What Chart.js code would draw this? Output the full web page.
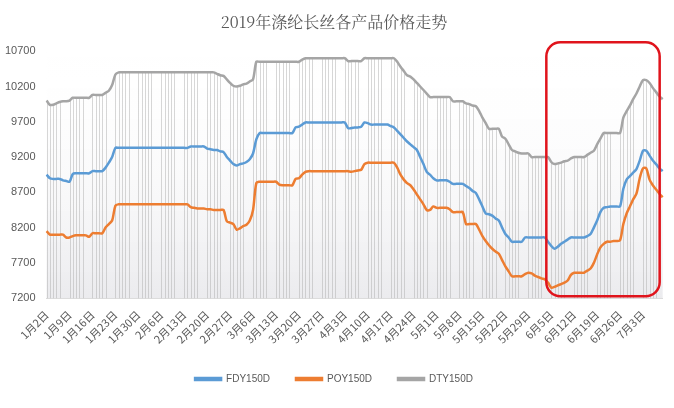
<!DOCTYPE html>
<html><head><meta charset="utf-8">
<script src="https://cdn.jsdelivr.net/npm/chart.js@4.4.1/dist/chart.umd.min.js"></script>
<style>html,body{margin:0;padding:0;background:#fff}#wrap{width:674px;height:408px}</style>
</head><body><div id="wrap"><canvas id="c" width="674" height="408"></canvas></div>
<script>
const title = '2019年涤纶长丝各产品价格走势';
const tickLabels = ['1月2日','1月9日','1月16日','1月23日','1月30日','2月6日','2月13日','2月20日','2月27日','3月6日','3月13日','3月20日','3月27日','4月3日','4月10日','4月17日','4月24日','5月1日','5月8日','5月15日','5月22日','5月29日','6月5日','6月12日','6月19日','6月26日','7月3日'];
const seriesNames = ['FDY150D','POY150D','DTY150D'];
const dty = [10000,9940,9940,9960,9980,9990,9990,10000,10040,10040,
10040,10040,10040,10040,10080,10080,10080,10080,10110,10140,
10220,10370,10400,10400,10400,10400,10400,10400,10400,10400,
10400,10400,10400,10400,10400,10400,10400,10400,10400,10400,
10400,10400,10400,10400,10400,10400,10400,10400,10400,10400,
10400,10400,10380,10360,10350,10300,10250,10210,10200,10210,
10230,10240,10270,10300,10550,10550,10550,10550,10550,10550,
10550,10550,10550,10550,10550,10550,10550,10550,10580,10600,
10600,10600,10600,10600,10600,10600,10600,10600,10600,10600,
10600,10600,10560,10560,10560,10560,10560,10600,10600,10600,
10600,10600,10600,10600,10600,10600,10600,10550,10480,10420,
10360,10340,10300,10250,10200,10150,10100,10050,10050,10050,
10050,10050,10050,10050,9990,9990,9990,9990,9960,9950,
9930,9920,9850,9760,9680,9600,9600,9600,9600,9490,
9460,9380,9300,9280,9260,9250,9250,9250,9200,9200,
9200,9200,9200,9200,9130,9100,9110,9120,9140,9150,
9180,9200,9200,9200,9200,9230,9260,9290,9380,9460,
9540,9540,9540,9540,9540,9540,9760,9850,9930,10020,
10100,10200,10290,10290,10250,10180,10120,10060,10020];
const fdy = [8950,8900,8890,8890,8890,8870,8860,8850,8960,8970,
8970,8970,8970,8970,9000,9000,9000,9000,9050,9120,
9200,9330,9330,9330,9330,9330,9330,9330,9330,9330,
9330,9330,9330,9330,9330,9330,9330,9330,9330,9330,
9330,9330,9330,9330,9350,9350,9350,9350,9350,9320,
9310,9300,9300,9280,9270,9200,9150,9100,9080,9100,
9110,9130,9170,9250,9450,9540,9540,9540,9540,9540,
9540,9540,9540,9540,9540,9540,9620,9630,9660,9690,
9690,9690,9690,9690,9690,9690,9690,9690,9690,9690,
9690,9690,9610,9610,9620,9620,9630,9690,9680,9660,
9660,9660,9660,9660,9660,9640,9620,9570,9520,9470,
9420,9380,9340,9300,9200,9100,8990,8950,8900,8870,
8870,8870,8870,8850,8820,8820,8820,8820,8790,8760,
8720,8690,8600,8500,8400,8390,8370,8330,8300,8200,
8110,8060,8000,8000,8000,8000,8060,8060,8060,8060,
8060,8060,8060,8000,7940,7900,7930,7970,8000,8030,
8060,8060,8060,8060,8060,8080,8110,8200,8300,8420,
8480,8490,8500,8500,8500,8500,8750,8880,8930,8980,
9030,9150,9290,9290,9220,9150,9100,9040,9000];
const poy = [8150,8100,8100,8100,8100,8100,8060,8060,8080,8090,
8090,8090,8090,8070,8120,8120,8120,8120,8200,8250,
8300,8510,8530,8530,8530,8530,8530,8530,8530,8530,
8530,8530,8530,8530,8530,8530,8530,8530,8530,8530,
8530,8530,8530,8530,8490,8480,8470,8470,8470,8460,
8460,8450,8450,8450,8450,8290,8270,8250,8170,8190,
8220,8240,8300,8450,8830,8850,8850,8850,8850,8850,
8850,8810,8800,8800,8800,8800,8890,8900,8950,8990,
9000,9000,9000,9000,9000,9000,9000,9000,9000,9000,
9000,9000,9000,8990,9000,9010,9020,9100,9120,9120,
9120,9120,9120,9120,9120,9120,9120,9050,8950,8880,
8830,8800,8740,8670,8600,8530,8450,8450,8500,8480,
8480,8480,8480,8460,8420,8420,8420,8420,8250,8250,
8250,8250,8170,8080,8010,7950,7900,7860,7830,7740,
7650,7580,7510,7510,7510,7510,7540,7560,7550,7520,
7500,7480,7470,7420,7350,7360,7380,7400,7420,7450,
7530,7560,7560,7560,7560,7590,7620,7700,7820,7920,
7970,8000,8000,8010,8010,8020,8250,8400,8500,8600,
8680,8900,9040,9040,8880,8800,8740,8680,8630];
const categories = dty.map((v,i)=> i%7===0 && tickLabels[i/7] ? tickLabels[i/7] : '');

const extras = {
  id:'extras',
  beforeDatasetsDraw(chart){
    const {ctx,chartArea:a,scales:{x,y}} = chart;
    ctx.save();
    const g = ctx.createLinearGradient(0,a.top,0,a.bottom);
    g.addColorStop(0,'rgba(255,255,255,0)'); g.addColorStop(1,'rgba(235,235,238,1)');
    ctx.fillStyle=g; ctx.fillRect(a.left,a.top,a.right-a.left,a.bottom-a.top);
    ctx.strokeStyle='rgba(175,175,175,0.5)'; ctx.lineWidth=1;
    dty.forEach((v,i)=>{ if(i%7===5||i%7===6) return; const px=Math.round(x.getPixelForValue(i))+0.5;
      ctx.beginPath(); ctx.moveTo(px,y.getPixelForValue(v)); ctx.lineTo(px,a.bottom); ctx.stroke();});
    ctx.restore();
  },
  afterDatasetsDraw(chart){
    const {ctx,chartArea:a,scales:{x}} = chart;
    const x1 = x.getPixelForValue(152.5), x2 = a.right-3, y1=a.top-9, y2=a.bottom-2, r=14;
    ctx.save(); ctx.strokeStyle='#e0141c'; ctx.lineWidth=2.5;
    ctx.beginPath(); ctx.roundRect(x1,y1,x2-x1,y2-y1,r); ctx.stroke(); ctx.restore();
  }
};
const mk=(label,data,color)=>({label,data,borderColor:color,backgroundColor:color,borderWidth:2.5,pointRadius:0,tension:0.3,fill:false});
new Chart(document.getElementById('c'),{
  type:'line',
  data:{labels:categories,datasets:[mk(seriesNames[0],fdy,'#5B9BD5'),mk(seriesNames[1],poy,'#ED7D31'),mk(seriesNames[2],dty,'#A5A5A5')]},
  options:{responsive:false,animation:false,
    layout:{padding:{left:2,right:8,top:2,bottom:14}},
    plugins:{
      title:{display:true,text:title,color:'#595959',font:{family:'Noto Serif CJK SC, Noto Sans CJK SC',size:16,weight:'normal'},padding:{top:10,bottom:20}},
      legend:{position:'bottom',labels:{boxWidth:26,boxHeight:2,color:'#595959',font:{size:10},padding:26}},
      tooltip:{enabled:false}},
    scales:{
      x:{grid:{display:false},border:{color:'#d9d9d9'},
        ticks:{autoSkip:false,maxRotation:45,minRotation:45,color:'#595959',font:{family:'Noto Sans CJK SC',size:11},padding:2,
          callback:(v,i)=>categories[i]}},
      y:{min:7200,max:10700,grid:{display:false},border:{display:false},
        ticks:{stepSize:500,color:'#595959',font:{size:11},callback:v=>String(v)}}
    }},
  plugins:[extras]
});
</script></body></html>
